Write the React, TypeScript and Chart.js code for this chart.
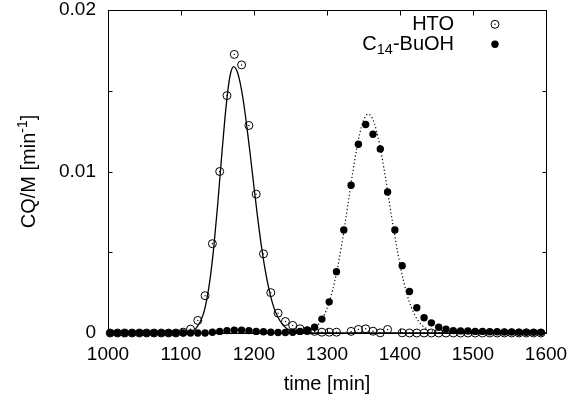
import React, { useEffect, useRef } from "react";
import { Chart, registerables } from "chart.js";

Chart.register(...registerables);

// ---- data ----
const sampleTime = [
  1003, 1013, 1023, 1033, 1043, 1053, 1063, 1073, 1083, 1093,
  1103, 1113, 1123, 1133, 1143, 1153, 1163, 1173, 1183, 1193,
  1203, 1213, 1223, 1233, 1243, 1253, 1263, 1273, 1283, 1293,
  1303, 1313, 1323, 1333, 1343, 1353, 1363, 1373, 1383, 1393,
  1403, 1413, 1423, 1433, 1443, 1453, 1463, 1473, 1483, 1493,
  1503, 1513, 1523, 1533, 1543, 1553, 1563, 1573, 1583, 1593,
];

const htoValue: (number | null)[] = [
  0, 0, 0, 0, 0, 0, 0, 0, 0, 0,
  0.00005, 0.00024, 0.00078, 0.00231, 0.00553, 0.01, 0.0147, 0.01725, 0.0166, 0.01285,
  0.0086, 0.0049, 0.0025, 0.00123, 0.00071, 0.00047, 0.00026, 0.00014, 0.0001, 0.00005,
  0.00005, 0.00005, null, 0.0001, 0.00022, 0.00026, 0.00011, 0.00001, 0.00022, null,
  0.00001, 0, 0, 0, 0, 0, 0, 0, 0, 0,
  0, 0, 0, 0, 0, 0, 0, 0, 0, 0,
];

const butanolValue = [
  0, 0, 0, 0, 0, 0, 0, 0, 0, 0,
  0, 0, 0, 0, 0.00005, 0.0001, 0.00015, 0.00018, 0.00018, 0.00015,
  0.0001, 0.00008, 0.00005, 0.00003, 0.00003, 0.00005, 0.0001, 0.00018, 0.00036, 0.00086,
  0.00193, 0.0038, 0.00638, 0.00915, 0.01169, 0.01291, 0.01231, 0.0114, 0.00873, 0.00638,
  0.00417, 0.00257, 0.00156, 0.00094, 0.00063, 0.00036, 0.00024, 0.00015, 0.00013, 0.00012,
  0.0001, 0.0001, 0.00008, 0.00008, 0.00006, 0.00006, 0.00005, 0.00005, 0.00004, 0.00004,
];

const htoFitTime = [
  1000, 1090, 1100, 1110, 1120, 1130, 1135, 1140, 1145, 1150, 1155, 1160, 1165, 1168, 1172,
  1176, 1180, 1185, 1190, 1195, 1200, 1205, 1210, 1215, 1220, 1225, 1230, 1240, 1250, 1260, 1270, 1600,
];
const htoFitValue = [
  0, 0, 0.00001, 0.00004, 0.00026, 0.00109, 0.002, 0.0034, 0.00536, 0.00782, 0.01057, 0.01321, 0.0153, 0.0161, 0.0165,
  0.0163, 0.0157, 0.01449, 0.01286, 0.01099, 0.00903, 0.00714, 0.00543, 0.00398, 0.00281, 0.0019, 0.00124, 0.00047, 0.00015, 0.00004, 0, 0,
];

const butanolFitTime = [
  1000, 1260, 1270, 1280, 1290, 1300, 1310, 1320, 1330, 1335, 1340, 1345, 1350, 1356, 1360,
  1365, 1370, 1375, 1380, 1385, 1390, 1400, 1410, 1420, 1430, 1440, 1450, 1460, 1600,
];
const butanolFitValue = [
  0, 0, 0.00008, 0.00025, 0.00065, 0.00152, 0.00308, 0.00543, 0.00837, 0.00987, 0.01124, 0.01237, 0.01316, 0.01355, 0.01345,
  0.01296, 0.01211, 0.01098, 0.00965, 0.00822, 0.00679, 0.00423, 0.00233, 0.00113, 0.00049, 0.00019, 0.00006, 0, 0,
];

const xTickValues = [1000, 1100, 1200, 1300, 1400, 1500, 1600];
const xTickLabels = ["1000", "1100", "1200", "1300", "1400", "1500", "1600"];
const yTickValues = [0, 0.005, 0.01, 0.015, 0.02];
const yTickLabels = ["0", "", "0.01", "", "0.02"];

const legendHto = "HTO";
const legendButanolMain = "C";
const legendButanolSub = "14";
const legendButanolRest = "-BuOH";
const xTitle = "time [min]";
const yTitleMain = "CQ/M [min";
const yTitleSup = "-1";
const yTitleEnd = "]";

const FONT = '"Liberation Sans", Arial, Helvetica, sans-serif';

export default function App() {
  const ref = useRef<HTMLCanvasElement | null>(null);

  useEffect(() => {
    const canvas = ref.current;
    if (!canvas) return;

    const decor = {
      id: "decor",
      beforeDatasetsDraw(chart: any) {
        const { ctx, chartArea: a, scales } = chart;
        const xs = scales.x;
        const ys = scales.y;
        ctx.save();
        ctx.strokeStyle = "#000";
        ctx.lineWidth = 1;
        const l = Math.round(a.left) + 0.5;
        const t = Math.round(a.top) + 0.5;
        const r = Math.round(a.right) + 0.5;
        const b = Math.round(a.bottom) + 0.5;
        ctx.strokeRect(l, t, r - l, b - t);
        ctx.beginPath();
        xTickValues.forEach((v) => {
          const px = Math.round(xs.getPixelForValue(v)) + 0.5;
          ctx.moveTo(px, b);
          ctx.lineTo(px, b - 5);
          ctx.moveTo(px, t);
          ctx.lineTo(px, t + 5);
        });
        yTickValues.forEach((v) => {
          const py = Math.round(ys.getPixelForValue(v)) + 0.5;
          ctx.moveTo(l, py);
          ctx.lineTo(l + 4, py);
          ctx.moveTo(r, py);
          ctx.lineTo(r - 4, py);
        });
        ctx.stroke();
        ctx.restore();
      },
      afterDraw(chart: any) {
        const { ctx, chartArea: a } = chart;
        ctx.save();
        ctx.fillStyle = "#000";
        ctx.strokeStyle = "#000";
        ctx.textBaseline = "alphabetic";

        // x title
        ctx.font = `20px ${FONT}`;
        ctx.textAlign = "center";
        ctx.fillText(xTitle, (a.left + a.right) / 2, 390);

        // y title (rotated, with superscript)
        const big = `20px ${FONT}`;
        const small = `14px ${FONT}`;
        ctx.font = big;
        const w1 = ctx.measureText(yTitleMain).width;
        const w3 = ctx.measureText(yTitleEnd).width;
        ctx.font = small;
        const w2 = ctx.measureText(yTitleSup).width;
        const total = w1 + w2 + w3;
        ctx.save();
        ctx.translate(35, (a.top + a.bottom) / 2);
        ctx.rotate(-Math.PI / 2);
        ctx.textAlign = "left";
        let x0 = -total / 2;
        ctx.font = big;
        ctx.fillText(yTitleMain, x0, 0);
        x0 += w1;
        ctx.font = small;
        ctx.fillText(yTitleSup, x0, -8);
        x0 += w2;
        ctx.font = big;
        ctx.fillText(yTitleEnd, x0, 0);
        ctx.restore();

        // legend
        const textRight = 454;
        ctx.textAlign = "right";
        ctx.font = big;
        ctx.fillText(legendHto, textRight, 29.5);
        const wr = ctx.measureText(legendButanolRest).width;
        ctx.fillText(legendButanolRest, textRight, 49.5);
        ctx.font = `14.5px ${FONT}`;
        const ws = ctx.measureText(legendButanolSub).width;
        ctx.fillText(legendButanolSub, textRight - wr, 53.5);
        ctx.font = big;
        ctx.fillText(legendButanolMain, textRight - wr - ws, 49.5);

        // legend symbols
        ctx.lineWidth = 1;
        ctx.beginPath();
        ctx.arc(495, 24.3, 4, 0, Math.PI * 2);
        ctx.stroke();
        ctx.beginPath();
        ctx.arc(495, 24.3, 0.7, 0, Math.PI * 2);
        ctx.fill();
        ctx.beginPath();
        ctx.arc(495, 44.3, 3.7, 0, Math.PI * 2);
        ctx.fill();
        ctx.restore();
      },
    };

    const htoPoints = sampleTime.map((t, i) => ({ x: t, y: htoValue[i] }));

    const chart = new Chart(canvas, {
      type: "scatter",
      data: {
        datasets: [
          {
            label: "C14-BuOH",
            data: sampleTime.map((t, i) => ({ x: t, y: butanolValue[i] })),
            pointStyle: "circle",
            pointRadius: 3.7,
            pointBackgroundColor: "#000",
            pointBorderColor: "#000",
            pointBorderWidth: 0,
            showLine: false,
            order: 0,
            clip: false,
          } as any,
          {
            label: "HTO centre",
            data: htoPoints,
            pointStyle: "circle",
            pointRadius: 0.7,
            pointBackgroundColor: "#000",
            pointBorderWidth: 0,
            showLine: false,
            order: 1,
            clip: false,
          } as any,
          {
            label: "HTO",
            data: htoPoints,
            pointStyle: "circle",
            pointRadius: 4,
            pointBackgroundColor: "rgba(0,0,0,0)",
            pointBorderColor: "#000",
            pointBorderWidth: 1,
            showLine: false,
            order: 2,
            clip: false,
          } as any,
          {
            label: "HTO fit",
            data: htoFitTime.map((t, i) => ({ x: t, y: htoFitValue[i] })),
            showLine: true,
            pointRadius: 0,
            borderColor: "#000",
            borderWidth: 1.3,
            cubicInterpolationMode: "monotone",
            order: 3,
          } as any,
          {
            label: "C14-BuOH fit",
            data: butanolFitTime.map((t, i) => ({ x: t, y: butanolFitValue[i] })),
            showLine: true,
            pointRadius: 0,
            borderColor: "#000",
            borderWidth: 1.2,
            borderDash: [1.2, 2.4],
            cubicInterpolationMode: "monotone",
            order: 4,
          } as any,
        ],
      },
      options: {
        responsive: false,
        animation: false,
        events: [],
        layout: { padding: { top: 10, right: 37, left: 0, bottom: 0 } },
        plugins: { legend: { display: false }, tooltip: { enabled: false } },
        scales: {
          x: {
            type: "linear",
            min: 1000,
            max: 1600,
            afterBuildTicks: (s: any) => {
              s.ticks = xTickValues.map((v) => ({ value: v }));
            },
            afterFit: (s: any) => {
              s.height = 67;
              s.paddingLeft = 0;
              s.paddingRight = 0;
            },
            grid: { display: false, drawTicks: false },
            border: { display: false },
            ticks: {
              color: "#000",
              font: { family: FONT, size: 19 },
              padding: 10,
              maxRotation: 0,
              autoSkip: false,
              callback: (_v: any, i: number) => xTickLabels[i],
            },
          },
          y: {
            type: "linear",
            min: 0,
            max: 0.02,
            afterBuildTicks: (s: any) => {
              s.ticks = yTickValues.map((v) => ({ value: v }));
            },
            afterFit: (s: any) => {
              s.width = 108;
              s.paddingTop = 0;
              s.paddingBottom = 0;
            },
            grid: { display: false, drawTicks: false },
            border: { display: false },
            ticks: {
              color: "#000",
              font: { family: FONT, size: 19 },
              padding: 12,
              autoSkip: false,
              callback: (_v: any, i: number) => yTickLabels[i],
            },
          },
        },
      } as any,
      plugins: [decor],
    });

    return () => chart.destroy();
  }, []);

  return (
    <div style={{ position: "absolute", left: 0, top: 0, width: 583, height: 400, background: "#fff" }}>
      <canvas ref={ref} width={583} height={400} style={{ display: "block" }} />
    </div>
  );
}
